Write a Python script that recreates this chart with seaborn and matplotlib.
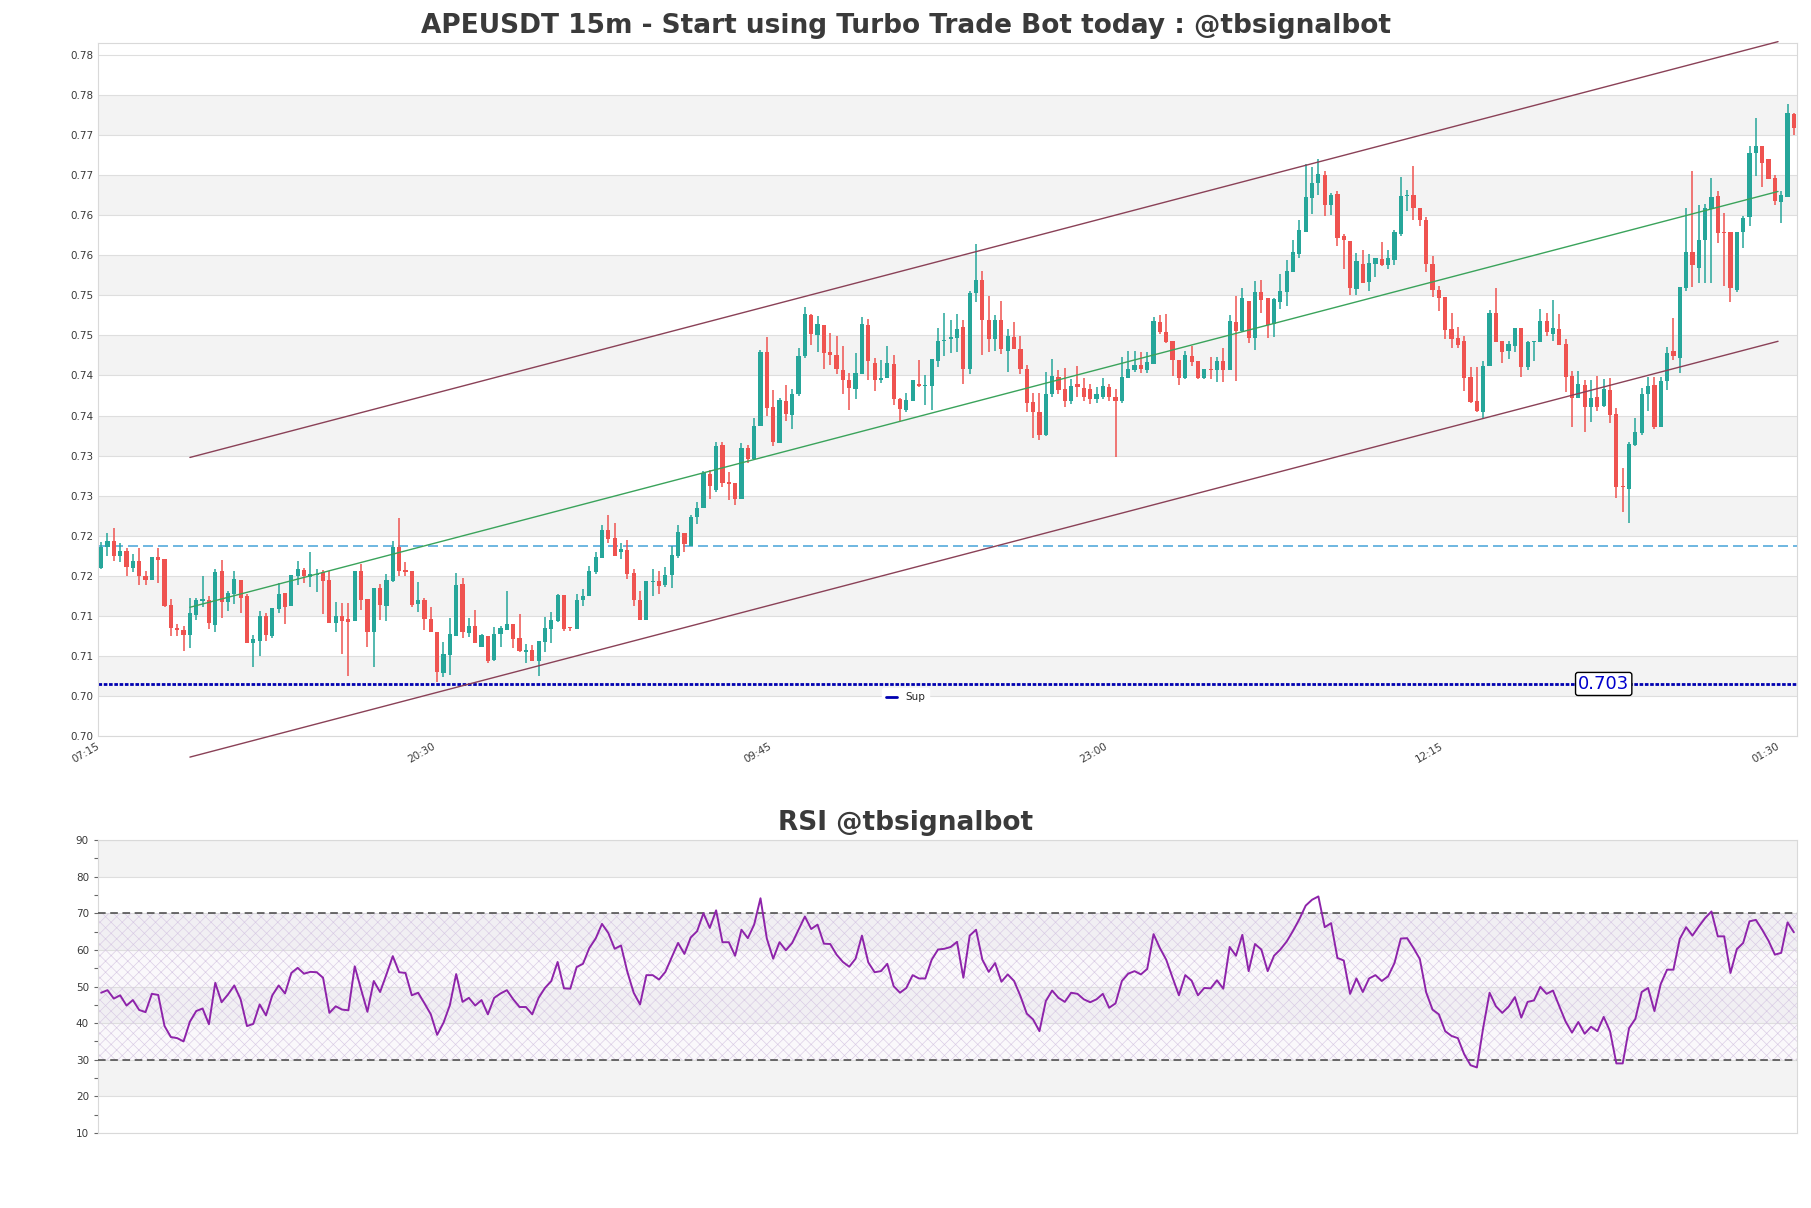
import numpy as np
import pandas as pd
import matplotlib
matplotlib.use("Agg")
import matplotlib.pyplot as plt
from matplotlib.lines import Line2D
from matplotlib.ticker import FormatStrFormatter, MultipleLocator
import seaborn as sns

# 15m candles (index 0 = 07:15)
opens = [
    0.71744, 0.72006, 0.72081, 0.71902, 0.71956, 0.71745, 0.71832, 0.71644, 0.71603, 0.71882,
    0.71861, 0.71287, 0.71004, 0.70971, 0.70916, 0.71162, 0.71341, 0.71349, 0.71041, 0.71707,
    0.71320, 0.71424, 0.71599, 0.71403, 0.70812, 0.70842, 0.71145, 0.70904, 0.71237, 0.71436,
    0.71270, 0.71653, 0.71728, 0.71632, 0.71661, 0.71694, 0.71599, 0.71062, 0.71145, 0.71111,
    0.71091, 0.71706, 0.71361, 0.70953, 0.71498, 0.71278, 0.71586, 0.72014, 0.71723, 0.71715,
    0.71299, 0.71353, 0.71111, 0.70945, 0.70437, 0.70662, 0.70903, 0.71548, 0.70937, 0.71028,
    0.70758, 0.70903, 0.70603, 0.70924, 0.70978, 0.71049, 0.70870, 0.70695, 0.70725, 0.70583,
    0.70820, 0.70987, 0.71086, 0.71411, 0.71016, 0.70988, 0.71342, 0.71404, 0.71695, 0.71870,
    0.72224, 0.72120, 0.71945, 0.71974, 0.71687, 0.71350, 0.71101, 0.71571, 0.71583, 0.71529,
    0.71654, 0.71903, 0.72182, 0.72028, 0.72382, 0.72498, 0.72923, 0.72723, 0.73285, 0.72819,
    0.72806, 0.72611, 0.73243, 0.73110, 0.73517, 0.74441, 0.73755, 0.73309, 0.73834, 0.73659,
    0.73921, 0.74392, 0.74907, 0.74650, 0.74783, 0.74442, 0.74408, 0.74221, 0.74096, 0.73984,
    0.74171, 0.74783, 0.74308, 0.74100, 0.74121, 0.74296, 0.73859, 0.73714, 0.73826, 0.74046,
    0.74017, 0.74013, 0.74325, 0.74579, 0.74600, 0.74616, 0.74754, 0.74225, 0.75178, 0.75344,
    0.74837, 0.74608, 0.74837, 0.74462, 0.74625, 0.74483, 0.74234, 0.73818, 0.73693, 0.73410,
    0.73920, 0.74136, 0.73983, 0.73833, 0.74045, 0.73995, 0.73983, 0.73858, 0.73883, 0.74008,
    0.73883, 0.73833, 0.74120, 0.74224, 0.74282, 0.74220, 0.74295, 0.74823, 0.74690, 0.74578,
    0.74349, 0.74116, 0.74391, 0.74329, 0.74120, 0.74232, 0.74224, 0.74329, 0.74224, 0.74816,
    0.74711, 0.75078, 0.74623, 0.75190, 0.75115, 0.74795, 0.75065, 0.75198, 0.75440, 0.75669,
    0.75947, 0.76364, 0.76552, 0.76655, 0.76284, 0.76418, 0.75890, 0.75827, 0.75232, 0.75544,
    0.75315, 0.75544, 0.75606, 0.75531, 0.75597, 0.75918, 0.76389, 0.76405, 0.76243, 0.76093,
    0.75544, 0.75219, 0.75136, 0.74732, 0.74616, 0.74578, 0.74129, 0.73829, 0.73692, 0.74274,
    0.74932, 0.74586, 0.74453, 0.74524, 0.74740, 0.74254, 0.74566, 0.74574, 0.74828, 0.74670,
    0.74732, 0.74545, 0.74141, 0.73870, 0.74033, 0.73762, 0.73879, 0.73774, 0.73970, 0.73670,
    0.72775, 0.72734, 0.73283, 0.73429, 0.73920, 0.74033, 0.73512, 0.74079, 0.74453, 0.74370,
    0.75244, 0.75690, 0.75494, 0.75835, 0.76231, 0.76389, 0.75947, 0.75947, 0.75223, 0.75939,
    0.76127, 0.76930, 0.77014, 0.76855, 0.76614, 0.76314, 0.76384, 0.77417,
]
highs = [
    0.72069, 0.72185, 0.72248, 0.72056, 0.71994, 0.71923, 0.71994, 0.71715, 0.71890, 0.71994,
    0.71861, 0.71362, 0.71050, 0.71029, 0.71370, 0.71374, 0.71644, 0.71395, 0.71736, 0.71848,
    0.71466, 0.71707, 0.71599, 0.71424, 0.70912, 0.71216, 0.71183, 0.71245, 0.71557, 0.71436,
    0.71661, 0.71832, 0.71744, 0.71944, 0.71736, 0.71728, 0.71707, 0.71320, 0.71311, 0.71311,
    0.71706, 0.71798, 0.71361, 0.71498, 0.71548, 0.71673, 0.72081, 0.72372, 0.71819, 0.71715,
    0.71569, 0.71369, 0.71257, 0.70945, 0.70820, 0.71124, 0.71685, 0.71619, 0.71124, 0.71228,
    0.70924, 0.70903, 0.71007, 0.71028, 0.71457, 0.71049, 0.71174, 0.70799, 0.70791, 0.70841,
    0.71132, 0.71195, 0.71423, 0.71411, 0.71016, 0.71425, 0.71479, 0.71770, 0.71945, 0.72286,
    0.72411, 0.72311, 0.72057, 0.72099, 0.71729, 0.71454, 0.71591, 0.71737, 0.71716, 0.71758,
    0.72028, 0.72290, 0.72182, 0.72411, 0.72577, 0.72964, 0.72973, 0.73326, 0.73318, 0.72943,
    0.72806, 0.73305, 0.73285, 0.73617, 0.74470, 0.74628, 0.73975, 0.73867, 0.74033, 0.73983,
    0.74491, 0.75003, 0.74920, 0.74891, 0.74783, 0.74683, 0.74637, 0.74516, 0.74184, 0.74433,
    0.74878, 0.74849, 0.74367, 0.74338, 0.74516, 0.74400, 0.73868, 0.73934, 0.74100, 0.74338,
    0.74159, 0.74350, 0.74741, 0.74932, 0.74845, 0.74920, 0.74837, 0.75199, 0.75794, 0.75452,
    0.75140, 0.74907, 0.75086, 0.74725, 0.74816, 0.74641, 0.74275, 0.73930, 0.73930, 0.74195,
    0.74357, 0.74220, 0.74245, 0.74108, 0.74270, 0.74120, 0.74045, 0.74008, 0.74120, 0.74045,
    0.73983, 0.74382, 0.74461, 0.74461, 0.74445, 0.74445, 0.74878, 0.74911, 0.74920, 0.74578,
    0.74349, 0.74461, 0.74516, 0.74329, 0.74232, 0.74379, 0.74379, 0.74491, 0.74907, 0.75140,
    0.75240, 0.75078, 0.75335, 0.75344, 0.75115, 0.75115, 0.75419, 0.75594, 0.75843, 0.76093,
    0.76792, 0.76751, 0.76855, 0.76701, 0.76430, 0.76447, 0.75918, 0.75827, 0.75681, 0.75719,
    0.75669, 0.75619, 0.75815, 0.75719, 0.75968, 0.76626, 0.76468, 0.76759, 0.76243, 0.76127,
    0.75640, 0.75273, 0.75136, 0.74928, 0.74761, 0.74641, 0.74253, 0.74253, 0.74336, 0.74973,
    0.75244, 0.74586, 0.74586, 0.74740, 0.74740, 0.74586, 0.74586, 0.74982, 0.74932, 0.75094,
    0.74920, 0.74607, 0.74211, 0.74203, 0.74095, 0.74095, 0.74141, 0.74108, 0.74116, 0.73746,
    0.72996, 0.73325, 0.73621, 0.73992, 0.74129, 0.74129, 0.74136, 0.74503, 0.74866, 0.75252,
    0.76239, 0.76701, 0.76284, 0.76293, 0.76614, 0.76447, 0.76181, 0.75947, 0.75947, 0.76147,
    0.77014, 0.77367, 0.77014, 0.76855, 0.76655, 0.76447, 0.77542, 0.77429,
]
lows = [
    0.71736, 0.71894, 0.71840, 0.71819, 0.71653, 0.71694, 0.71540, 0.71540, 0.71603, 0.71557,
    0.71258, 0.70904, 0.70896, 0.70717, 0.70754, 0.71104, 0.71258, 0.70987, 0.70954, 0.71124,
    0.71208, 0.71299, 0.71187, 0.70812, 0.70517, 0.70646, 0.70842, 0.70871, 0.71187, 0.71054,
    0.71270, 0.71540, 0.71557, 0.71516, 0.71453, 0.71174, 0.71062, 0.70954, 0.70675, 0.70396,
    0.71091, 0.71228, 0.70758, 0.70508, 0.71103, 0.71091, 0.71569, 0.71652, 0.71652, 0.71257,
    0.71195, 0.70978, 0.70945, 0.70329, 0.70383, 0.70413, 0.70903, 0.70870, 0.70883, 0.70812,
    0.70758, 0.70562, 0.70583, 0.70766, 0.70978, 0.70745, 0.70695, 0.70558, 0.70583, 0.70404,
    0.70704, 0.70812, 0.71070, 0.70966, 0.70966, 0.70988, 0.71271, 0.71404, 0.71675, 0.71870,
    0.72061, 0.71903, 0.71862, 0.71612, 0.71279, 0.71101, 0.71101, 0.71396, 0.71425, 0.71508,
    0.71496, 0.71870, 0.71953, 0.72028, 0.72299, 0.72498, 0.72611, 0.72694, 0.72756, 0.72602,
    0.72536, 0.72611, 0.73056, 0.73110, 0.73517, 0.73642, 0.73268, 0.73309, 0.73588, 0.73476,
    0.73892, 0.74367, 0.74525, 0.74442, 0.74225, 0.74284, 0.74171, 0.73922, 0.73714, 0.73859,
    0.74171, 0.74100, 0.73951, 0.74059, 0.74121, 0.73776, 0.73576, 0.73693, 0.73826, 0.74005,
    0.73788, 0.73714, 0.74254, 0.74388, 0.74433, 0.74442, 0.74038, 0.74171, 0.75066, 0.74400,
    0.74442, 0.74462, 0.74421, 0.74192, 0.74475, 0.74171, 0.73693, 0.73372, 0.73339, 0.73390,
    0.73883, 0.73920, 0.73758, 0.73795, 0.73883, 0.73833, 0.73795, 0.73808, 0.73858, 0.73833,
    0.73133, 0.73808, 0.74120, 0.74199, 0.74182, 0.74182, 0.74295, 0.74670, 0.74557, 0.74149,
    0.74036, 0.74108, 0.74266, 0.74108, 0.74108, 0.74108, 0.74074, 0.74074, 0.74224, 0.74086,
    0.74698, 0.74557, 0.74473, 0.74932, 0.74616, 0.74628, 0.74982, 0.75015, 0.75440, 0.75615,
    0.75939, 0.76168, 0.76397, 0.76147, 0.76159, 0.75772, 0.75481, 0.75157, 0.75157, 0.75303,
    0.75210, 0.75384, 0.75515, 0.75481, 0.75531, 0.75889, 0.76197, 0.76097, 0.76010, 0.75440,
    0.75135, 0.74961, 0.74607, 0.74491, 0.74491, 0.73954, 0.73804, 0.73692, 0.73617, 0.74266,
    0.74574, 0.74307, 0.74361, 0.74449, 0.74129, 0.74216, 0.74336, 0.74574, 0.74649, 0.74586,
    0.74532, 0.73942, 0.73512, 0.73870, 0.73449, 0.73575, 0.73712, 0.73762, 0.73554, 0.72618,
    0.72450, 0.72305, 0.73275, 0.73408, 0.73712, 0.73483, 0.73512, 0.73974, 0.74349, 0.74179,
    0.75210, 0.75260, 0.75303, 0.75303, 0.75303, 0.75806, 0.75265, 0.75073, 0.75190, 0.75740,
    0.76022, 0.76646, 0.76502, 0.76597, 0.76284, 0.76052, 0.76377, 0.77146,
]
closes = [
    0.72015, 0.72081, 0.71902, 0.71956, 0.71757, 0.71832, 0.71644, 0.71603, 0.71882, 0.71852,
    0.71270, 0.70996, 0.70979, 0.70916, 0.71183, 0.71353, 0.71362, 0.71062, 0.71694, 0.71320,
    0.71436, 0.71611, 0.71374, 0.70812, 0.70862, 0.71145, 0.70916, 0.71245, 0.71424, 0.71262,
    0.71661, 0.71736, 0.71644, 0.71674, 0.71674, 0.71590, 0.71062, 0.71145, 0.71091, 0.71078,
    0.71706, 0.71353, 0.70953, 0.71498, 0.71286, 0.71598, 0.72014, 0.71715, 0.71702, 0.71286,
    0.71349, 0.71111, 0.70945, 0.70446, 0.70675, 0.70924, 0.71536, 0.70945, 0.71020, 0.70812,
    0.70916, 0.70591, 0.70924, 0.70995, 0.71049, 0.70862, 0.70708, 0.70729, 0.70583, 0.70841,
    0.70995, 0.71103, 0.71415, 0.70987, 0.70995, 0.71350, 0.71396, 0.71708, 0.71883, 0.72224,
    0.72111, 0.71903, 0.71987, 0.71675, 0.71342, 0.71101, 0.71583, 0.71583, 0.71517, 0.71662,
    0.71912, 0.72195, 0.72041, 0.72382, 0.72494, 0.72935, 0.72765, 0.73276, 0.72810, 0.72798,
    0.72611, 0.73247, 0.73110, 0.73517, 0.74441, 0.73746, 0.73318, 0.73846, 0.73671, 0.73921,
    0.74391, 0.74920, 0.74662, 0.74795, 0.74433, 0.74408, 0.74225, 0.74100, 0.73996, 0.74184,
    0.74795, 0.74325, 0.74100, 0.74117, 0.74308, 0.73851, 0.73734, 0.73838, 0.74088, 0.74013,
    0.74026, 0.74350, 0.74583, 0.74596, 0.74629, 0.74733, 0.74234, 0.75178, 0.75336, 0.74837,
    0.74608, 0.74837, 0.74475, 0.74641, 0.74475, 0.74225, 0.73805, 0.73693, 0.73410, 0.73920,
    0.74149, 0.73974, 0.73833, 0.74024, 0.74008, 0.73883, 0.73858, 0.73920, 0.74024, 0.73883,
    0.73833, 0.74136, 0.74232, 0.74282, 0.74232, 0.74324, 0.74836, 0.74698, 0.74573, 0.74349,
    0.74120, 0.74407, 0.74316, 0.74120, 0.74232, 0.74220, 0.74329, 0.74224, 0.74828, 0.74711,
    0.75115, 0.74623, 0.75190, 0.75098, 0.74782, 0.75107, 0.75210, 0.75453, 0.75690, 0.75968,
    0.76377, 0.76555, 0.76668, 0.76284, 0.76405, 0.75868, 0.75836, 0.75244, 0.75577, 0.75303,
    0.75552, 0.75619, 0.75523, 0.75619, 0.75947, 0.76389, 0.76405, 0.76243, 0.76093, 0.75544,
    0.75223, 0.75119, 0.74723, 0.74607, 0.74536, 0.74120, 0.73824, 0.73704, 0.74274, 0.74932,
    0.74574, 0.74441, 0.74545, 0.74740, 0.74254, 0.74574, 0.74586, 0.74828, 0.74691, 0.74740,
    0.74532, 0.74129, 0.73870, 0.74045, 0.73762, 0.73870, 0.73762, 0.73983, 0.73662, 0.72762,
    0.72755, 0.73296, 0.73442, 0.73920, 0.74024, 0.73504, 0.74079, 0.74428, 0.74399, 0.75252,
    0.75690, 0.75531, 0.75843, 0.76239, 0.76377, 0.75931, 0.75931, 0.75240, 0.75939, 0.76118,
    0.76930, 0.77014, 0.76805, 0.76597, 0.76322, 0.76397, 0.77429, 0.77238,
]
rsi = [
    48.3, 49.0, 46.7, 47.6, 44.8, 46.3, 43.6, 43.0, 48.0, 47.7,
    39.2, 36.2, 35.9, 35.0, 40.4, 43.3, 44.0, 39.7, 51.0, 45.7,
    47.8, 50.3, 46.5, 39.2, 39.8, 45.1, 42.1, 47.6, 50.3, 48.1,
    53.7, 55.1, 53.5, 54.0, 53.9, 52.4, 42.8, 44.6, 43.7, 43.5,
    55.5, 49.2, 43.1, 51.5, 48.5, 53.3, 58.3, 53.9, 53.7, 47.6,
    48.3, 45.4, 42.4, 36.8, 40.1, 44.9, 53.4, 45.8, 46.9, 44.8,
    46.3, 42.4, 46.9, 48.1, 49.0, 46.5, 44.4, 44.4, 42.4, 46.9,
    49.6, 51.5, 56.7, 49.5, 49.4, 55.3, 56.2, 60.5, 63.1, 67.1,
    64.6, 60.3, 61.2, 54.0, 48.3, 45.1, 53.1, 53.1, 51.9, 54.0,
    58.0, 61.9, 58.9, 63.4, 65.1, 70.0, 66.0, 70.8, 62.1, 62.1,
    58.4, 65.5, 63.2, 66.9, 74.1, 63.1, 57.6, 62.1, 59.9, 61.9,
    65.5, 69.1, 65.7, 66.9, 61.7, 61.6, 58.7, 56.7, 55.4, 57.6,
    63.9, 56.6, 53.9, 54.2, 56.2, 50.1, 48.3, 49.6, 53.1, 52.2,
    52.2, 57.3, 60.1, 60.3, 60.8, 62.2, 52.4, 63.9, 65.5, 57.3,
    54.0, 56.4, 51.3, 53.3, 51.5, 47.4, 42.6, 41.0, 37.8, 46.0,
    48.9, 46.9, 45.8, 48.3, 48.0, 46.5, 45.7, 46.5, 48.0, 44.2,
    45.4, 51.5, 53.5, 54.2, 53.3, 54.8, 64.3, 60.5, 57.3, 52.4,
    47.6, 53.1, 51.6, 47.6, 49.6, 49.5, 51.7, 49.4, 60.8, 58.4,
    64.1, 54.2, 61.6, 60.1, 54.2, 58.4, 60.1, 62.3, 65.2, 68.4,
    72.1, 73.7, 74.6, 66.2, 67.3, 57.8, 57.1, 48.0, 52.2, 48.5,
    52.2, 53.1, 51.5, 52.8, 56.4, 63.1, 63.2, 60.5, 57.5, 48.4,
    43.7, 42.4, 37.8, 36.5, 35.9, 31.5, 28.5, 27.9, 38.8, 48.3,
    44.6, 42.8, 44.5, 47.1, 41.5, 45.8, 46.2, 49.9, 48.0, 48.9,
    44.6, 40.4, 37.4, 40.3, 37.1, 39.0, 37.8, 41.7, 37.8, 29.0,
    29.0, 38.6, 41.2, 48.5, 49.6, 43.3, 50.7, 54.6, 54.6, 63.0,
    66.2, 63.9, 66.4, 68.7, 70.5, 63.7, 63.7, 53.7, 60.2, 61.9,
    67.8, 68.2, 65.5, 62.5, 58.7, 59.2, 67.5, 64.8,
]

tick_labels = ['07:15', '20:30', '09:45', '23:00', '12:15', '01:30']
tick_every = 53  # one label every 53 candles

sup_level = 0.703
ref_level = 0.7202
channel_x = [14, 264.5]
channel_mid = [0.71257, 0.76447]
channel_half = 0.0187

# y-axis layout of the price panel
price_tick0 = 0.6965
price_step = 0.005
price_top = 0.7830

df = pd.DataFrame({'open': opens, 'high': highs, 'low': lows, 'close': closes})
df['x'] = np.arange(len(df))
df['up'] = df.close >= df.open
n = len(df)

GREEN = '#26a69a'
RED = '#ef5350'
BAND = '#f3f3f3'
GRID = '#dedede'
TXT = '#3a3a3a'

sns.set_style("whitegrid")
plt.rcParams['font.family'] = ['DejaVu Sans']
plt.rcParams['hatch.linewidth'] = 0.45

fig = plt.figure(figsize=(18.11, 12.08), dpi=100)
ax1 = fig.add_axes([0.0541, 0.3907, 0.9382, 0.5737])
ax2 = fig.add_axes([0.0541, 0.0621, 0.9382, 0.2425])
# titles and legend sit on the figure centre, not the axes centre
fig_mid = (0.5 - 0.0541) / 0.9382

# ---- price panel ----
ticks = [price_tick0 + price_step * k for k in range(18)]
for k in range(1, 17, 2):
    ax1.axhspan(ticks[k], ticks[k + 1], color=BAND, lw=0, zorder=0)

colors = np.where(df.up, GREEN, RED)
ax1.vlines(df.x, df.low, df.high, colors=colors, lw=1.1, zorder=3)
body = np.maximum((df.close - df.open).abs(), 0.00004)
ax1.bar(df.x, body, bottom=np.minimum(df.open, df.close), width=0.66,
        color=colors, lw=0, zorder=4)

upper = [m + channel_half for m in channel_mid]
lower = [m - channel_half for m in channel_mid]
ax1.plot(channel_x, channel_mid, color='#3aa35b', lw=1.0, zorder=5, clip_on=False)
ax1.plot(channel_x, upper, color='#8a4157', lw=1.0, zorder=5, clip_on=False)
ax1.plot(channel_x, lower, color='#8a4157', lw=1.0, zorder=5, clip_on=False)

ax1.axhline(ref_level, color='#55aadc', lw=1.2, ls=(0, (6, 3)), zorder=2)
ax1.axhline(sup_level, color='#0000b0', lw=2.0, ls=(0, (1.3, 0.6)), zorder=2)
ax1.text(237, sup_level, '0.703', color='#0000cc', fontsize=13, ha='center', va='center',
         bbox=dict(boxstyle='round,pad=0.14', fc='white', ec='black', lw=1), zorder=7)

ax1.legend(handles=[Line2D([], [], color='#0000b0', lw=2)], labels=['Sup'],
           loc='lower center', bbox_to_anchor=(fig_mid, 0.035), fontsize=7.5,
           frameon=True, framealpha=1, facecolor='white', edgecolor='white',
           handlelength=1.0, borderpad=0.4)

ax1.set_xlim(-0.5, n - 0.5)
ax1.set_ylim(price_tick0, price_top)
ax1.set_yticks(ticks)
ax1.yaxis.set_major_formatter(FormatStrFormatter('%.2f'))
ax1.set_xticks(list(range(0, n, tick_every)))
ax1.set_xticklabels(tick_labels, rotation=30, ha='right')
ax1.tick_params(axis='both', labelsize=7.5, labelcolor=TXT, length=0)
ax1.grid(axis='y', color=GRID, lw=0.8)
ax1.grid(axis='x', visible=False)
ax1.set_axisbelow(True)
for s in ax1.spines.values():
    s.set_color('#d9d9d9')
ax1.set_title('APEUSDT 15m - Start using Turbo Trade Bot today : @tbsignalbot',
              fontsize=19, fontweight='bold', color=TXT, pad=7, x=fig_mid)

# ---- RSI panel ----
for lo in (20, 40, 60, 80):
    ax2.axhspan(lo, lo + 10, color=BAND, lw=0, zorder=0)
ax2.axhspan(30, 70, facecolor='#efe8f5', alpha=0.3, lw=0, zorder=0.5)
ax2.axhspan(30, 70, facecolor='none', edgecolor='#d8cae4', hatch='xxx', lw=0, zorder=0.6)
sns.lineplot(x=df.x, y=rsi, ax=ax2, color='#8e24aa', lw=1.4, zorder=4)
ax2.axhline(70, color='#444444', lw=1.1, ls=(0, (5, 3)), zorder=3)
ax2.axhline(30, color='#444444', lw=1.1, ls=(0, (5, 3)), zorder=3)

ax2.set_xlim(-0.5, n - 0.5)
ax2.set_ylim(10, 90)
ax2.set_yticks(range(10, 91, 10))
ax2.yaxis.set_minor_locator(MultipleLocator(5))
ax2.set_xticks([])
ax2.set_xlabel('')
ax2.set_ylabel('')
ax2.tick_params(axis='y', which='both', left=True, length=3, width=0.8, color='#666666',
                labelsize=7.5, labelcolor=TXT)
ax2.grid(axis='y', which='major', color=GRID, lw=0.8)
ax2.grid(axis='x', visible=False)
ax2.set_axisbelow(True)
for s in ax2.spines.values():
    s.set_color('#d9d9d9')
ax2.set_title('RSI @tbsignalbot', fontsize=19, fontweight='bold', color=TXT, pad=7, x=fig_mid)

fig.savefig('out.png', dpi=100)
